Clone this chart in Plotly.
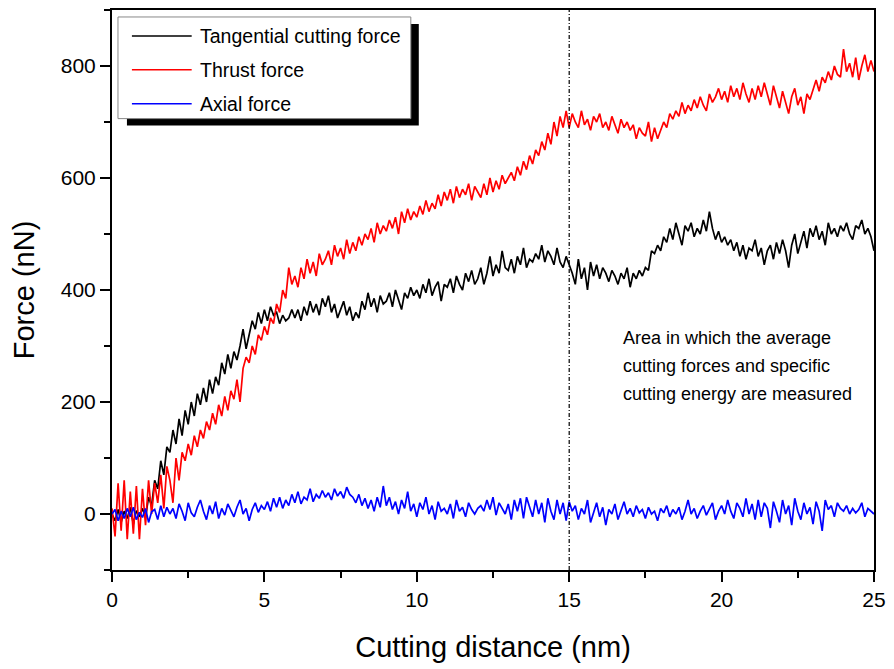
import numpy as np
import plotly.graph_objects as go

# Cutting distance (nm), sampled every 0.1 nm
distance = np.round(np.arange(0, 25.01, 0.1), 1)

tangential = [
    0, -12, 8, -15, 5, -8, 12, -18, 6, -5,
    10, -6, 30, 15, 60, 45, 95, 70, 120, 110,
    150, 125, 170, 140, 185, 160, 200, 175, 215, 195,
    225, 200, 240, 215, 245, 230, 270, 250, 285, 260,
    290, 275, 300, 330, 295, 320, 345, 330, 360, 340,
    365, 345, 370, 355, 360, 340, 355, 345, 350, 365,
    350, 365, 345, 370, 355, 380, 360, 375, 355, 385,
    370, 390, 360, 375, 350, 365, 380, 355, 370, 345,
    360, 350, 380, 365, 395, 370, 385, 360, 390, 375,
    380, 395, 370, 400, 380, 365, 395, 385, 405, 390,
    400, 385, 410, 395, 420, 390, 405, 415, 380, 410,
    405, 420, 395, 425, 410, 400, 430, 415, 435, 410,
    420, 440, 410, 430, 460, 425, 445, 430, 470, 440,
    435, 455, 430, 460, 445, 475, 440, 455, 450, 465,
    455, 480, 450, 470, 460, 445, 475, 450, 440, 460,
    445, 430, 410, 455, 420, 440, 400, 450, 425, 445,
    420, 440, 430, 415, 435, 425, 410, 430, 420, 440,
    405, 430, 420, 435, 425, 440, 435, 470, 465, 480,
    470, 495, 485, 510, 490, 520, 500, 480, 515, 505,
    520, 495, 510, 500, 525, 505, 540, 510, 490, 505,
    485, 495, 480, 490, 470, 485, 460, 480, 455, 475,
    470, 490, 460, 475, 445, 470, 480, 455, 485, 465,
    490, 470, 440, 480, 500, 465, 485, 505, 475, 510,
    495, 515, 490, 505, 480, 520, 500, 510, 495, 515,
    505, 520, 500, 490, 515, 510, 525, 500, 510, 495,
    470,
]

thrust = [
    10, -40, 55, -30, 60, -45, 40, -35, 50, -45,
    45, -20, 60, 0, 55, 20, 70, 10, 85, 60,
    20, 100, 60, 110, 95, 125, 105, 140, 120, 150,
    135, 165, 150, 180, 160, 195, 175, 210, 185, 220,
    205, 240, 200, 260, 280, 270, 300, 285, 320, 310,
    335, 320, 350, 340, 375, 360, 400, 385, 440, 410,
    425, 405, 440, 420, 455, 430, 450, 425, 465, 445,
    455, 470, 445, 480, 460, 475, 455, 490, 465, 485,
    470, 495, 480, 500, 490, 510, 485, 520, 500, 515,
    505, 525, 510, 530, 500, 540, 520, 545, 525, 540,
    530, 550, 535, 560, 540, 555, 545, 570, 550, 575,
    560, 580, 555, 585, 565, 580, 570, 590, 560, 585,
    575, 565, 590, 570, 600, 575, 595, 580, 605, 590,
    600, 610, 595, 620, 605, 630, 615, 640, 625, 650,
    640, 665, 650, 680, 660, 700, 675, 710, 690, 720,
    690, 715, 700, 690, 720, 695, 705, 685, 710, 700,
    715, 690, 700, 685, 710, 695, 680, 705, 690, 700,
    685, 695, 670, 690, 680, 675, 700, 665, 690, 670,
    685, 700, 690, 715, 705, 720, 710, 735, 715, 730,
    720, 740, 725, 745, 730, 720, 750, 735, 745, 760,
    740, 755, 735, 765, 745, 760, 740, 770, 750, 735,
    760, 740, 765, 745, 770, 750, 730, 765, 745, 725,
    755, 735, 715, 745, 760, 730, 745, 715, 750, 740,
    760, 775, 755, 780, 770, 790, 775, 800, 785, 780,
    830, 790, 805, 780, 815, 775, 800, 820, 790, 810,
    790,
]

axial = [
    0, 8, -12, 5, -8, 10, -5, 12, -10, 3,
    -6, 10, -15, 4, 8, -10, 15, -5, 12, 0,
    10, -8, 18, 5, -12, 20, 2, -5, 12, 25,
    5, -10, 15, 0, 22, -8, 10, -2, 18, 5,
    -5, 12, 25, 0, 10, -12, 8, 20, 3, 15,
    8, 22, 5, 28, 12, 30, 10, 25, 15, 35,
    20, 40, 18, 30, 25, 45, 22, 35, 28, 42,
    30, 38, 25, 45, 32, 40, 28, 48, 35, 30,
    20, 35, 15, 28, 10, 25, 5, 30, 12, 50,
    15, 30, 8, 22, 0, 25, 10, 40, 5, 18,
    -5, 20, 8, 30, 0, 15, -10, 22, 5, 10,
    0, 18, -8, 25, 5, 12, -5, 20, 8, 0,
    10, 15, 5, 25, 8, 30, -2, 20, 10, 0,
    18, -10, 25, 5, 28, -8, 30, 10, -5, 25,
    0, 20, -15, 28, 5, -10, 25, 0, 20, -12,
    22, 5, 15, -10, 10, 0, 25, -15, 5, 20,
    -5, 12, -20, 8, 0, 18, -10, 5, 22, 0,
    10, -5, 15, 2, 8, -8, 12, 0, 5, -12,
    10, 2, 15, -5, 8, 0, 12, -10, 5, 25,
    0, 10, -8, 5, 15, -2, 8, 20, -10, 5,
    15, 0, 25, 5, -8, 20, 10, -5, 28, 0,
    18, -10, 25, -5, 20, 10, -25, 22, 5, -15,
    25, 0, 15, -20, 28, 5, -10, 20, 0, 12,
    -18, 22, 5, -30, 25, 8, 15, -5, 20, 10,
    5, 15, 0, 10, 2, 8, 20, -5, 10, 5,
    0,
]

series_names = ["Tangential cutting force", "Thrust force", "Axial force"]
series_colors = ["#000000", "#ff0000", "#0000ff"]
series_values = [tangential, thrust, axial]

measure_start = 15
note_lines = [
    "Area in which the average",
    "cutting forces and specific",
    "cutting energy are measured",
]

FONT = "Liberation Sans, Arial, sans-serif"
W, H = 894, 669
ML, MR, MT, MB = 112, 17, 8, 99
PW, PH = W - ML - MR, H - MT - MB


def px(x):
    return (x - ML) / PW


def py(y):
    return (H - MB - y) / PH


fig = go.Figure()
for name, color, vals in zip(series_names, series_colors, series_values):
    fig.add_trace(go.Scatter(
        x=distance, y=vals, mode="lines", name=name,
        line=dict(color=color, width=1.7), showlegend=False,
    ))

shapes = [
    # boundary of the measurement region
    dict(type="line", xref="x", yref="paper", x0=measure_start, x1=measure_start,
         y0=0, y1=1, line=dict(color="black", width=1.2, dash="4px,2px,1px,2px")),
    # legend shadow and frame
    dict(type="rect", xref="paper", yref="paper", layer="above",
         x0=px(127), x1=px(420), y0=py(124), y1=py(22),
         fillcolor="black", line=dict(width=0)),
    dict(type="rect", xref="paper", yref="paper", layer="above",
         x0=px(118), x1=px(412), y0=py(117), y1=py(15),
         fillcolor="white", line=dict(color="#888888", width=1)),
]
annotations = []
for i, (name, color) in enumerate(zip(series_names, series_colors)):
    yy = 34 + 34 * i
    shapes.append(dict(type="line", xref="paper", yref="paper", layer="above",
                       x0=px(132), x1=px(192), y0=py(yy), y1=py(yy),
                       line=dict(color=color, width=1.5)))
    annotations.append(dict(xref="paper", yref="paper", x=px(198), y=py(yy),
                            xanchor="left", yanchor="middle", showarrow=False,
                            text=name, font=dict(family=FONT, size=19.5, color="black")))

for i, line in enumerate(note_lines):
    annotations.append(dict(xref="paper", yref="paper", x=px(623), y=py(337 + 28 * i),
                            xanchor="left", yanchor="middle", showarrow=False,
                            text=line, font=dict(family=FONT, size=18, color="black")))

axis_common = dict(
    showline=True, linecolor="black", linewidth=2, mirror=True,
    ticks="outside", ticklen=10, tickwidth=2, tickcolor="black",
    showgrid=False, zeroline=False,
    tickfont=dict(family=FONT, size=21, color="black"),
)

fig.update_layout(
    width=W, height=H,
    margin=dict(l=ML, r=MR, t=MT, b=MB),
    paper_bgcolor="white", plot_bgcolor="white",
    xaxis=dict(range=[0, 25], dtick=5, tick0=0,
               minor=dict(dtick=2.5, ticks="outside", ticklen=6, tickwidth=2, tickcolor="black"),
               title=dict(text="Cutting distance (nm)", font=dict(family=FONT, size=29, color="black"),
                          standoff=26),
               **axis_common),
    yaxis=dict(range=[-100, 900], dtick=200, tick0=0,
               minor=dict(dtick=100, ticks="outside", ticklen=6, tickwidth=2, tickcolor="black"),
               title=dict(text="Force (nN)", font=dict(family=FONT, size=29, color="black"),
                          standoff=18),
               **axis_common),
    shapes=shapes,
    annotations=annotations,
)

fig.write_html("out.html")
